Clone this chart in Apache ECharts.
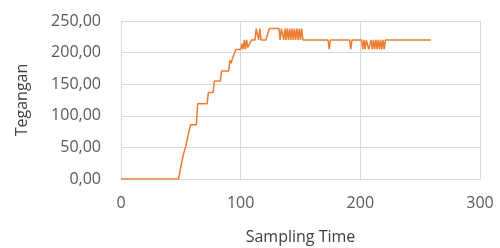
<!DOCTYPE html>
<html>
<head>
<meta charset="utf-8">
<script src="https://cdn.jsdelivr.net/npm/echarts@6/dist/echarts.min.js"></script>
<style>
  html, body { margin: 0; padding: 0; background: #fff; }
  #main { width: 500px; height: 248px; }
</style>
</head>
<body>
<div id="main"></div>
<script>
// data (breakpoints of the line)
var sampleTime = [0, 48, 52, 54, 58, 63, 64, 72, 73, 77, 78, 83, 84, 90, 91, 92, 93, 96, 100,
  101, 102, 103, 104, 105, 106, 109, 112, 113, 114, 115, 116, 117, 121, 124, 132, 133, 134,
  135, 136, 137, 138, 139, 140, 141, 142, 143, 144, 145, 146, 147, 148, 149, 150, 151, 152,
  173, 174, 175, 191, 192, 193, 201, 202, 203, 204, 205, 206, 207, 209, 210, 211, 212, 213,
  214, 215, 216, 217, 218, 219, 220, 221, 222, 259];
var tegangan = [0, 0, 38, 51, 86, 86, 119, 119, 137, 137, 155, 155, 171, 171, 188, 183, 190, 205, 205,
  214, 205, 220, 205, 220, 208, 220, 220, 238, 238, 220, 238, 220, 220, 238, 238, 220, 238,
  238, 220, 238, 220, 238, 220, 238, 220, 238, 220, 238, 220, 238, 220, 238, 220, 238, 220,
  220, 205, 220, 220, 205, 220, 220, 205, 220, 205, 220, 220, 205, 220, 205, 220, 205, 220,
  205, 220, 205, 220, 205, 220, 205, 220, 220, 220];
var xTicks = [0, 100, 200, 300];
var yTicks = [0, 50, 100, 150, 200, 250];

var pts = [];
for (var i = 0; i < sampleTime.length; i++) {
  pts.push([sampleTime[i], tegangan[i]]);
}

var myChart = echarts.init(document.getElementById("main"));
myChart.setOption({
  animation: false,
  grid: { left: 121, right: 20, top: 21, bottom: 69, containLabel: false, outerBoundsMode: "none" },
  xAxis: {
    type: "value",
    min: xTicks[0],
    max: xTicks[xTicks.length - 1],
    interval: 100,
    name: "Sampling Time",
    nameLocation: "middle",
    nameGap: 50,
    nameTextStyle: { color: "#404040", fontSize: 16, fontFamily: "Open Sans" },
    axisLine: { show: true, lineStyle: { color: "#d9d9d9", width: 1 } },
    axisTick: { show: false },
    axisLabel: { color: "#595959", fontSize: 16, fontFamily: "Open Sans", margin: 16 },
    splitLine: { show: true, lineStyle: { color: "#d9d9d9", width: 1 } }
  },
  yAxis: {
    type: "value",
    min: yTicks[0],
    max: yTicks[yTicks.length - 1],
    interval: 50,
    name: "Tegangan",
    nameLocation: "middle",
    nameGap: 91,
    nameTextStyle: { color: "#404040", fontSize: 16, fontFamily: "Open Sans" },
    axisLine: { show: true, lineStyle: { color: "#d9d9d9", width: 1 } },
    axisTick: { show: false },
    axisLabel: {
      color: "#595959", fontSize: 16, fontFamily: "Open Sans", margin: 20,
      formatter: function (v) { return v.toFixed(2).replace(".", ","); }
    },
    splitLine: { show: true, lineStyle: { color: "#d9d9d9", width: 1 } }
  },
  series: [{
    type: "line",
    data: pts,
    symbol: "none",
    lineStyle: { color: "#ED7D31", width: 1.5 },
    itemStyle: { color: "#ED7D31" }
  }]
});
</script>
</body>
</html>
